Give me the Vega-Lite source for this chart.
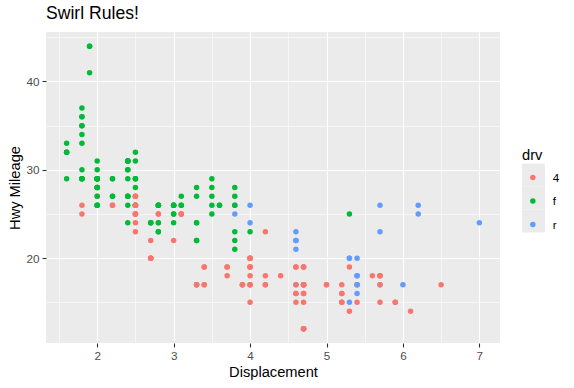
{
  "$schema": "https://vega.github.io/schema/vega-lite/v6.json",
  "autosize": "none",
  "width": 454,
  "height": 311,
  "padding": {"left": 46, "top": 32, "right": 74, "bottom": 45},
  "background": "white",
  "title": {"text": "Swirl Rules!", "anchor": "start", "fontSize": 17.6, "font": "Liberation Sans", "fontWeight": "normal", "color": "black", "offset": 9, "frame": "group"},
  "config": {
    "view": {"fill": "#EBEBEB", "stroke": null},
    "font": "Liberation Sans",
    "axis": {
      "domain": false,
      "gridColor": "white",
      "labelFont": "Liberation Sans",
      "labelFontSize": 11.7,
      "labelColor": "#4D4D4D",
      "titleFont": "Liberation Sans",
      "titleFontSize": 14.67,
      "titleFontWeight": "normal",
      "titleColor": "black",
      "tickColor": "#333333",
      "tickSize": 4,
      "tickWidth": 1.1
    },
    "legend": {
      "titleFont": "Liberation Sans",
      "titleFontSize": 14.67,
      "titleFontWeight": "normal",
      "titleColor": "black",
      "labelFont": "Liberation Sans",
      "labelFontSize": 11.7,
      "labelColor": "black"
    }
  },
  "resolve": {"scale": {"shape": "independent"}, "legend": {"shape": "independent"}},
  "layer": [
    {
      "data": {
        "values": [
          {"key": "4"}, {"key": "f"}, {"key": "r"}
        ]
      },
      "mark": {"type": "point", "filled": true, "opacity": 0, "color": "#EBEBEB"},
      "encoding": {
        "shape": {
          "field": "key", "type": "nominal",
          "scale": {"range": ["square", "square", "square"]},
          "legend": {
            "orient": "none", "legendX": 476, "legendY": 131.5, "title": null,
            "padding": 0, "symbolSize": 523, "symbolOffset": 0, "rowPadding": 0,
            "symbolFillColor": "#EBEBEB", "symbolStrokeWidth": 0, "symbolOpacity": 1,
            "labelExpr": "''", "labelOffset": 0, "zindex": 0,
            "encode": {"symbols": {"update": {"opacity": {"value": 1}, "fill": {"value": "#EBEBEB"}, "fillOpacity": {"value": 1}, "strokeWidth": {"value": 0}, "size": {"value": 523}}}}
          }
        }
      }
    },
    {
      "data": {
        "values": [
          {"displ":1.8,"hwy":29,"drv":"f"},{"displ":1.8,"hwy":29,"drv":"f"},{"displ":2.0,"hwy":31,"drv":"f"},{"displ":2.0,"hwy":30,"drv":"f"},{"displ":2.8,"hwy":26,"drv":"f"},{"displ":2.8,"hwy":26,"drv":"f"},{"displ":3.1,"hwy":27,"drv":"f"},
          {"displ":1.8,"hwy":26,"drv":"4"},{"displ":1.8,"hwy":25,"drv":"4"},{"displ":2.0,"hwy":28,"drv":"4"},{"displ":2.0,"hwy":27,"drv":"4"},{"displ":2.8,"hwy":25,"drv":"4"},{"displ":2.8,"hwy":25,"drv":"4"},{"displ":3.1,"hwy":25,"drv":"4"},{"displ":3.1,"hwy":25,"drv":"4"},
          {"displ":2.8,"hwy":24,"drv":"4"},{"displ":3.1,"hwy":25,"drv":"4"},{"displ":4.2,"hwy":23,"drv":"4"},
          {"displ":5.3,"hwy":20,"drv":"r"},{"displ":5.3,"hwy":15,"drv":"r"},{"displ":5.3,"hwy":20,"drv":"r"},{"displ":5.7,"hwy":17,"drv":"r"},{"displ":6.0,"hwy":17,"drv":"r"},
          {"displ":5.7,"hwy":26,"drv":"r"},{"displ":5.7,"hwy":23,"drv":"r"},{"displ":6.2,"hwy":26,"drv":"r"},{"displ":6.2,"hwy":25,"drv":"r"},{"displ":7.0,"hwy":24,"drv":"r"},
          {"displ":5.3,"hwy":19,"drv":"4"},{"displ":5.3,"hwy":14,"drv":"4"},{"displ":5.7,"hwy":15,"drv":"4"},{"displ":6.5,"hwy":17,"drv":"4"},
          {"displ":2.4,"hwy":27,"drv":"f"},{"displ":2.4,"hwy":30,"drv":"f"},{"displ":3.1,"hwy":26,"drv":"f"},{"displ":3.5,"hwy":29,"drv":"f"},{"displ":3.6,"hwy":26,"drv":"f"},
          {"displ":2.4,"hwy":24,"drv":"f"},{"displ":3.0,"hwy":24,"drv":"f"},{"displ":3.3,"hwy":22,"drv":"f"},{"displ":3.3,"hwy":22,"drv":"f"},{"displ":3.3,"hwy":24,"drv":"f"},{"displ":3.3,"hwy":24,"drv":"f"},{"displ":3.3,"hwy":17,"drv":"f"},{"displ":3.8,"hwy":22,"drv":"f"},{"displ":3.8,"hwy":21,"drv":"f"},{"displ":3.8,"hwy":23,"drv":"f"},{"displ":4.0,"hwy":23,"drv":"f"},
          {"displ":3.7,"hwy":19,"drv":"4"},{"displ":3.7,"hwy":18,"drv":"4"},{"displ":3.9,"hwy":17,"drv":"4"},{"displ":3.9,"hwy":17,"drv":"4"},{"displ":4.7,"hwy":19,"drv":"4"},{"displ":4.7,"hwy":19,"drv":"4"},{"displ":4.7,"hwy":12,"drv":"4"},{"displ":5.2,"hwy":17,"drv":"4"},{"displ":5.2,"hwy":15,"drv":"4"},
          {"displ":3.9,"hwy":17,"drv":"4"},{"displ":4.7,"hwy":17,"drv":"4"},{"displ":4.7,"hwy":12,"drv":"4"},{"displ":4.7,"hwy":17,"drv":"4"},{"displ":5.2,"hwy":16,"drv":"4"},{"displ":5.7,"hwy":18,"drv":"4"},{"displ":5.9,"hwy":15,"drv":"4"},
          {"displ":4.7,"hwy":16,"drv":"4"},{"displ":4.7,"hwy":12,"drv":"4"},{"displ":4.7,"hwy":17,"drv":"4"},{"displ":4.7,"hwy":17,"drv":"4"},{"displ":4.7,"hwy":16,"drv":"4"},{"displ":4.7,"hwy":12,"drv":"4"},{"displ":5.2,"hwy":15,"drv":"4"},{"displ":5.2,"hwy":16,"drv":"4"},{"displ":5.7,"hwy":17,"drv":"4"},{"displ":5.9,"hwy":15,"drv":"4"},
          {"displ":4.6,"hwy":17,"drv":"r"},{"displ":5.4,"hwy":17,"drv":"r"},{"displ":5.4,"hwy":18,"drv":"r"},
          {"displ":4.0,"hwy":17,"drv":"4"},{"displ":4.0,"hwy":19,"drv":"4"},{"displ":4.0,"hwy":17,"drv":"4"},{"displ":4.0,"hwy":19,"drv":"4"},{"displ":4.6,"hwy":19,"drv":"4"},{"displ":5.0,"hwy":17,"drv":"4"},
          {"displ":4.2,"hwy":17,"drv":"4"},{"displ":4.2,"hwy":17,"drv":"4"},{"displ":4.6,"hwy":16,"drv":"4"},{"displ":4.6,"hwy":16,"drv":"4"},{"displ":4.6,"hwy":17,"drv":"4"},{"displ":5.4,"hwy":15,"drv":"4"},{"displ":5.4,"hwy":17,"drv":"4"},
          {"displ":3.8,"hwy":26,"drv":"r"},{"displ":3.8,"hwy":25,"drv":"r"},{"displ":4.0,"hwy":26,"drv":"r"},{"displ":4.0,"hwy":24,"drv":"r"},{"displ":4.6,"hwy":21,"drv":"r"},{"displ":4.6,"hwy":22,"drv":"r"},{"displ":4.6,"hwy":23,"drv":"r"},{"displ":4.6,"hwy":22,"drv":"r"},{"displ":5.4,"hwy":20,"drv":"r"},
          {"displ":1.6,"hwy":33,"drv":"f"},{"displ":1.6,"hwy":32,"drv":"f"},{"displ":1.6,"hwy":32,"drv":"f"},{"displ":1.6,"hwy":29,"drv":"f"},{"displ":1.6,"hwy":32,"drv":"f"},{"displ":1.8,"hwy":34,"drv":"f"},{"displ":1.8,"hwy":36,"drv":"f"},{"displ":1.8,"hwy":36,"drv":"f"},{"displ":2.0,"hwy":29,"drv":"f"},
          {"displ":2.4,"hwy":26,"drv":"f"},{"displ":2.4,"hwy":27,"drv":"f"},{"displ":2.4,"hwy":30,"drv":"f"},{"displ":2.4,"hwy":31,"drv":"f"},{"displ":2.5,"hwy":26,"drv":"f"},{"displ":2.5,"hwy":26,"drv":"f"},{"displ":3.3,"hwy":28,"drv":"f"},
          {"displ":2.0,"hwy":26,"drv":"f"},{"displ":2.0,"hwy":29,"drv":"f"},{"displ":2.0,"hwy":28,"drv":"f"},{"displ":2.0,"hwy":27,"drv":"f"},{"displ":2.7,"hwy":24,"drv":"f"},{"displ":2.7,"hwy":24,"drv":"f"},{"displ":2.7,"hwy":24,"drv":"f"},
          {"displ":3.0,"hwy":22,"drv":"4"},{"displ":3.7,"hwy":19,"drv":"4"},{"displ":4.0,"hwy":20,"drv":"4"},{"displ":4.7,"hwy":17,"drv":"4"},{"displ":4.7,"hwy":12,"drv":"4"},{"displ":4.7,"hwy":19,"drv":"4"},{"displ":5.7,"hwy":18,"drv":"4"},{"displ":6.1,"hwy":14,"drv":"4"},
          {"displ":4.0,"hwy":15,"drv":"4"},{"displ":4.2,"hwy":18,"drv":"4"},{"displ":4.4,"hwy":18,"drv":"4"},{"displ":4.6,"hwy":15,"drv":"4"},
          {"displ":5.4,"hwy":17,"drv":"r"},{"displ":5.4,"hwy":16,"drv":"r"},{"displ":5.4,"hwy":18,"drv":"r"},
          {"displ":4.0,"hwy":19,"drv":"4"},{"displ":4.0,"hwy":17,"drv":"4"},{"displ":4.6,"hwy":19,"drv":"4"},{"displ":5.0,"hwy":17,"drv":"4"},
          {"displ":2.4,"hwy":29,"drv":"f"},{"displ":2.4,"hwy":27,"drv":"f"},{"displ":2.5,"hwy":31,"drv":"f"},{"displ":2.5,"hwy":32,"drv":"f"},{"displ":3.5,"hwy":27,"drv":"f"},{"displ":3.5,"hwy":26,"drv":"f"},
          {"displ":3.0,"hwy":25,"drv":"f"},{"displ":3.0,"hwy":25,"drv":"f"},{"displ":3.5,"hwy":25,"drv":"f"},
          {"displ":3.3,"hwy":17,"drv":"4"},{"displ":3.3,"hwy":17,"drv":"4"},{"displ":4.0,"hwy":20,"drv":"4"},{"displ":5.6,"hwy":18,"drv":"4"},
          {"displ":3.1,"hwy":26,"drv":"f"},{"displ":3.8,"hwy":26,"drv":"f"},{"displ":3.8,"hwy":27,"drv":"f"},{"displ":3.8,"hwy":28,"drv":"f"},{"displ":5.3,"hwy":25,"drv":"f"},
          {"displ":2.5,"hwy":25,"drv":"4"},{"displ":2.5,"hwy":24,"drv":"4"},{"displ":2.5,"hwy":27,"drv":"4"},{"displ":2.5,"hwy":25,"drv":"4"},{"displ":2.5,"hwy":26,"drv":"4"},{"displ":2.5,"hwy":23,"drv":"4"},
          {"displ":2.2,"hwy":26,"drv":"4"},{"displ":2.2,"hwy":26,"drv":"4"},{"displ":2.5,"hwy":26,"drv":"4"},{"displ":2.5,"hwy":26,"drv":"4"},{"displ":2.5,"hwy":25,"drv":"4"},{"displ":2.5,"hwy":27,"drv":"4"},{"displ":2.5,"hwy":25,"drv":"4"},{"displ":2.5,"hwy":27,"drv":"4"},
          {"displ":2.7,"hwy":20,"drv":"4"},{"displ":2.7,"hwy":20,"drv":"4"},{"displ":3.4,"hwy":19,"drv":"4"},{"displ":3.4,"hwy":17,"drv":"4"},{"displ":4.0,"hwy":20,"drv":"4"},{"displ":4.7,"hwy":17,"drv":"4"},
          {"displ":2.2,"hwy":29,"drv":"f"},{"displ":2.2,"hwy":27,"drv":"f"},{"displ":2.4,"hwy":31,"drv":"f"},{"displ":2.4,"hwy":31,"drv":"f"},{"displ":3.0,"hwy":26,"drv":"f"},{"displ":3.0,"hwy":26,"drv":"f"},{"displ":3.5,"hwy":28,"drv":"f"},
          {"displ":2.2,"hwy":27,"drv":"f"},{"displ":2.2,"hwy":29,"drv":"f"},{"displ":2.4,"hwy":31,"drv":"f"},{"displ":2.4,"hwy":31,"drv":"f"},{"displ":3.0,"hwy":26,"drv":"f"},{"displ":3.0,"hwy":26,"drv":"f"},{"displ":3.3,"hwy":27,"drv":"f"},
          {"displ":1.8,"hwy":30,"drv":"f"},{"displ":1.8,"hwy":33,"drv":"f"},{"displ":1.8,"hwy":35,"drv":"f"},{"displ":1.8,"hwy":37,"drv":"f"},{"displ":1.8,"hwy":35,"drv":"f"},
          {"displ":4.7,"hwy":15,"drv":"4"},{"displ":5.7,"hwy":18,"drv":"4"},
          {"displ":2.7,"hwy":20,"drv":"4"},{"displ":2.7,"hwy":20,"drv":"4"},{"displ":2.7,"hwy":22,"drv":"4"},{"displ":3.4,"hwy":17,"drv":"4"},{"displ":3.4,"hwy":19,"drv":"4"},{"displ":4.0,"hwy":18,"drv":"4"},{"displ":4.0,"hwy":20,"drv":"4"},
          {"displ":2.0,"hwy":29,"drv":"f"},{"displ":2.0,"hwy":29,"drv":"f"},{"displ":2.0,"hwy":28,"drv":"f"},{"displ":2.0,"hwy":29,"drv":"f"},{"displ":2.8,"hwy":23,"drv":"f"},
          {"displ":1.9,"hwy":44,"drv":"f"},{"displ":2.0,"hwy":29,"drv":"f"},{"displ":2.0,"hwy":26,"drv":"f"},{"displ":2.0,"hwy":29,"drv":"f"},{"displ":2.0,"hwy":29,"drv":"f"},{"displ":2.5,"hwy":29,"drv":"f"},{"displ":2.5,"hwy":29,"drv":"f"},{"displ":2.8,"hwy":23,"drv":"f"},{"displ":2.8,"hwy":24,"drv":"f"},
          {"displ":1.9,"hwy":44,"drv":"f"},{"displ":1.9,"hwy":41,"drv":"f"},{"displ":2.0,"hwy":29,"drv":"f"},{"displ":2.0,"hwy":26,"drv":"f"},{"displ":2.5,"hwy":28,"drv":"f"},{"displ":2.5,"hwy":29,"drv":"f"},
          {"displ":1.8,"hwy":29,"drv":"f"},{"displ":1.8,"hwy":29,"drv":"f"},{"displ":2.0,"hwy":28,"drv":"f"},{"displ":2.0,"hwy":29,"drv":"f"},{"displ":2.8,"hwy":26,"drv":"f"},{"displ":2.8,"hwy":26,"drv":"f"},{"displ":3.6,"hwy":26,"drv":"f"}
        ]
      },
      "mark": {"type": "point", "filled": true, "opacity": 1, "size": 30},
      "encoding": {
        "x": {
          "field": "displ", "type": "quantitative", "title": "Displacement",
          "scale": {"domain": [1.33, 7.27], "nice": false, "zero": false},
          "axis": {
            "values": [1.5, 2, 2.5, 3, 3.5, 4, 4.5, 5, 5.5, 6, 6.5, 7],
            "labelExpr": "datum.value % 1 === 0 ? format(datum.value, 'd') : ''",
            "gridWidth": {"condition": {"test": "datum.value % 1 === 0", "value": 1.1}, "value": 0.55},
            "tickOpacity": {"condition": {"test": "datum.value % 1 === 0", "value": 1}, "value": 0},
            "labelPadding": 3,
            "titlePadding": 3
          }
        },
        "y": {
          "field": "hwy", "type": "quantitative", "title": "Hwy Mileage",
          "scale": {"domain": [10.4, 45.6], "nice": false, "zero": false},
          "axis": {
            "values": [15, 20, 25, 30, 35, 40, 45],
            "labelExpr": "datum.value % 10 === 0 ? datum.label : ''",
            "gridWidth": {"condition": {"test": "datum.value % 10 === 0", "value": 1.1}, "value": 0.55},
            "tickOpacity": {"condition": {"test": "datum.value % 10 === 0", "value": 1}, "value": 0},
            "labelPadding": 3,
            "titlePadding": 3
          }
        },
        "color": {
          "field": "drv", "type": "nominal", "title": "drv",
          "scale": {"domain": ["4", "f", "r"], "range": ["#F8766D", "#00BA38", "#619CFF"]},
          "legend": {
            "orient": "none", "legendX": 476, "legendY": 116, "zindex": 1,
            "padding": 0, "symbolSize": 30, "symbolType": "circle",
            "symbolOffset": 5, "labelOffset": 14, "rowPadding": 10.5, "titlePadding": 9
          }
        }
      }
    }
  ]
}
